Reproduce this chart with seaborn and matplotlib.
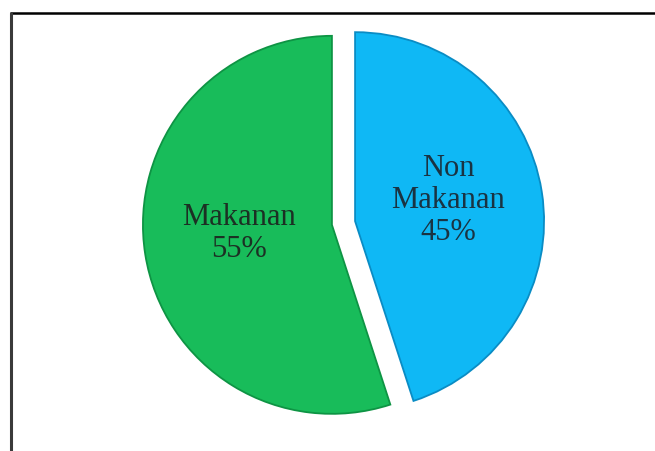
import matplotlib
matplotlib.use("Agg")
import matplotlib.pyplot as plt
from matplotlib.lines import Line2D
from matplotlib.transforms import ScaledTranslation
import seaborn as sns

# ---- data ----
categories = ["Non Makanan", "Makanan"]
values = [45, 55]
colors = ["#0FB8F5", "#18BC5A"]
edge_colors = ["#0A8CC4", "#0E9444"]
text_colors = ["#1A3342", "#1C3024"]

sns.set_theme(style="white")
plt.rcParams["font.family"] = ["Liberation Serif", "DejaVu Serif"]

W, H, DPI = 655, 452, 100
fig = plt.figure(figsize=(W / DPI, H / DPI), dpi=DPI, facecolor="white")
ax = fig.add_axes([0, 0, 1, 1])

wedges, texts, autotexts = ax.pie(
    values,
    colors=colors,
    startangle=90,
    counterclock=False,
    explode=[0.062, 0.062],
    autopct="%1.0f%%",
    pctdistance=0.5,
    radius=1.0,
    wedgeprops=dict(linewidth=1.3),
    textprops=dict(fontsize=22),
)
for w, ec in zip(wedges, edge_colors):
    w.set_edgecolor(ec)
shift = ScaledTranslation(0, 7 / DPI, fig.dpi_scale_trans)
for t, name, tc in zip(autotexts, categories, text_colors):
    t.set_text(name.replace(" ", "\n") + "\n" + t.get_text())
    t.set_color(tc)
    t.set_linespacing(1.12)
    t.set_ha("center")
    t.set_va("center")
    t.set_transform(ax.transData + shift)

# map data units to pixels: centre at (343.5, 224) px, radius 189 px
cx, cy, r = 343.5, 224.0, 189.0
ax.set_aspect("auto")
ax.set_xlim(-cx / r, (W - cx) / r)
ax.set_ylim(-(H - cy) / r, cy / r)
ax.axis("off")

# frame lines (top and left)
fig.add_artist(Line2D([10.5 / W, 1.0], [1 - 13.5 / H, 1 - 13.5 / H],
                      transform=fig.transFigure, color="black", linewidth=1.8))
fig.add_artist(Line2D([11 / W, 11 / W], [0, 1 - 13.5 / H],
                      transform=fig.transFigure, color="#3a3a3a", linewidth=2.2))

fig.savefig("out.png", dpi=DPI, facecolor="white")
